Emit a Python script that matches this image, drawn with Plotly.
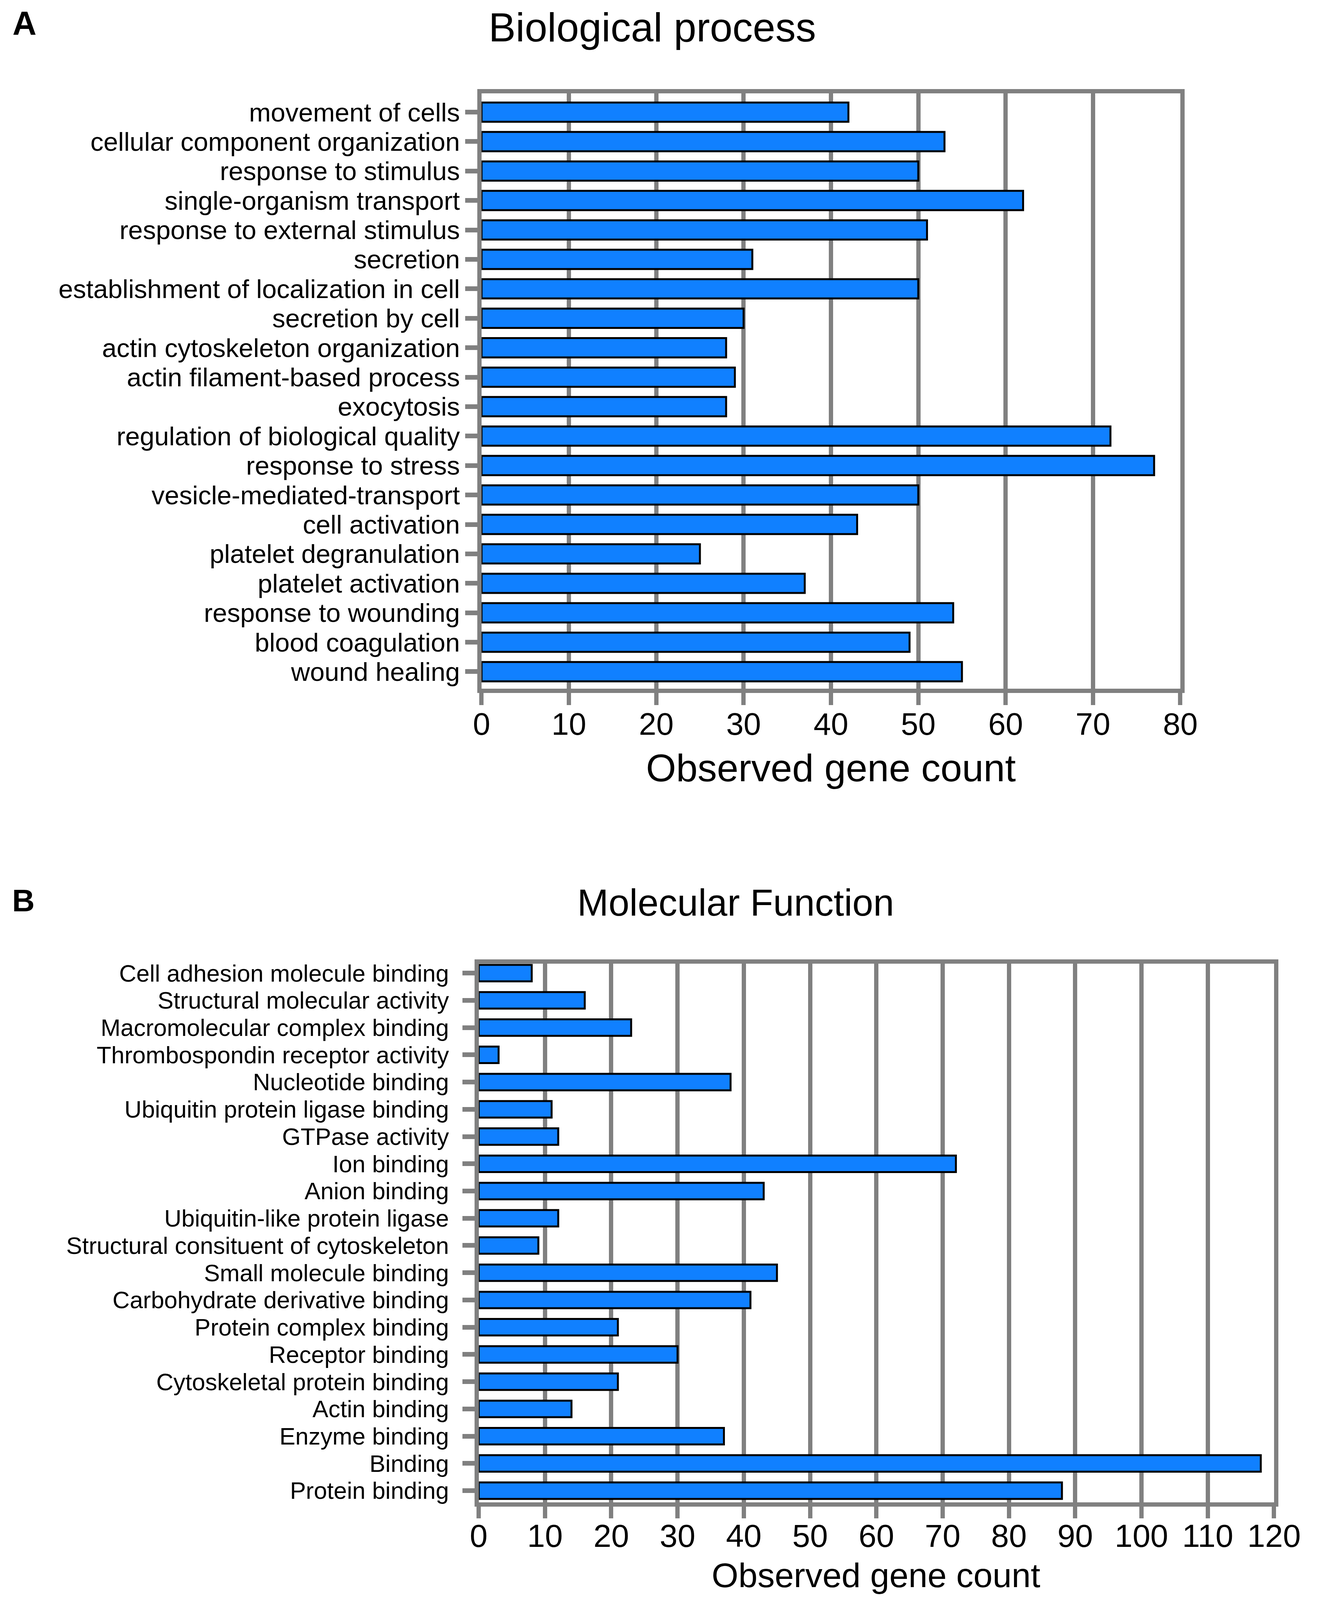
import plotly.graph_objects as go

# GO terms (top to bottom)
bp_terms = [
    "movement of cells", "cellular component organization", "response to stimulus",
    "single-organism transport", "response to external stimulus", "secretion",
    "establishment of localization in cell", "secretion by cell",
    "actin cytoskeleton organization", "actin filament-based process", "exocytosis",
    "regulation of biological quality", "response to stress", "vesicle-mediated-transport",
    "cell activation", "platelet degranulation", "platelet activation",
    "response to wounding", "blood coagulation", "wound healing",
]
bp_counts = [42, 53, 50, 62, 51, 31, 50, 30, 28, 29, 28, 72, 77, 50, 43, 25, 37, 54, 49, 55]

mf_terms = [
    "Cell adhesion molecule binding", "Structural molecular activity",
    "Macromolecular complex binding", "Thrombospondin receptor activity",
    "Nucleotide binding", "Ubiquitin protein ligase binding", "GTPase activity",
    "Ion binding", "Anion binding", "Ubiquitin-like protein ligase",
    "Structural consituent of cytoskeleton", "Small molecule binding",
    "Carbohydrate derivative binding", "Protein complex binding", "Receptor binding",
    "Cytoskeletal protein binding", "Actin binding", "Enzyme binding", "Binding",
    "Protein binding",
]
mf_counts = [8, 16, 23, 3, 38, 11, 12, 72, 43, 12, 9, 45, 41, 21, 30, 21, 14, 37, 118, 88]

bp_xticks = list(range(0, 81, 10))
mf_xticks = list(range(0, 121, 10))

W, H = 3418, 4781
FONT = "Liberation Sans, Arial, sans-serif"
GREY = "#808080"
BLUE = "#1080FF"


def fx(p):
    return p / W


def fy(p):
    return 1 - p / H


fig = go.Figure()

fig.add_trace(go.Bar(
    x=bp_counts, y=bp_terms, orientation="h", xaxis="x", yaxis="y",
    width=0.655, marker=dict(color=BLUE, line=dict(color="black", width=5)),
))
fig.add_trace(go.Bar(
    x=mf_counts, y=mf_terms, orientation="h", xaxis="x2", yaxis="y2",
    width=0.605, marker=dict(color=BLUE, line=dict(color="black", width=5)),
))

frame = dict(
    showline=True, mirror=True, linecolor=GREY, linewidth=11,
    ticks="outside", tickcolor=GREY, zeroline=False,
)

fig.update_layout(
    width=W, height=H,
    margin=dict(l=0, r=0, t=0, b=0),
    paper_bgcolor="white", plot_bgcolor="white",
    showlegend=False,
    font=dict(family=FONT, color="black"),
    xaxis=dict(
        frame, domain=[fx(1243), fx(3081)], anchor="y",
        range=[0, 80], tickvals=bp_xticks,
        showgrid=True, gridcolor=GREY, gridwidth=11,
        ticklen=31, tickwidth=11, tickfont=dict(size=80),
        ticklabelstandoff=-20,
    ),
    yaxis=dict(
        frame, domain=[fy(2053), fy(268)], anchor="x",
        type="category", categoryorder="array", categoryarray=bp_terms,
        tickmode="array", tickvals=bp_terms, ticktext=bp_terms,
        range=[19.575, -0.64], showgrid=False,
        ticklen=31, tickwidth=12, tickfont=dict(size=67),
    ),
    xaxis2=dict(
        frame, domain=[fx(1235.5), fx(3327.5)], anchor="y2",
        range=[0, 120], tickvals=mf_xticks,
        showgrid=True, gridcolor=GREY, gridwidth=11,
        ticklen=30, tickwidth=11, tickfont=dict(size=82),
        ticklabelstandoff=-26,
    ),
    yaxis2=dict(
        frame, domain=[fy(4493), fy(2878)], anchor="x2",
        type="category", categoryorder="array", categoryarray=mf_terms,
        tickmode="array", tickvals=mf_terms, ticktext=mf_terms,
        range=[19.43, -0.343], showgrid=False,
        ticklen=31, tickwidth=12, tickfont=dict(size=61),
        ticklabelstandoff=22,
    ),
)

notes = [
    ("A", 41, 58, 85, True),
    ("Biological process", 1692, 70, 104, False),
    ("Observed gene count", 2162, 2290, 99, False),
    ("B", 38, 2688, 80, True),
    ("Molecular Function", 1911, 2694, 96, False),
    ("Observed gene count", 2280, 4711, 88, False),
]
for text, x, y, size, bold in notes:
    fig.add_annotation(
        text=f"<b>{text}</b>" if bold else text,
        x=fx(x), y=fy(y), xref="paper", yref="paper",
        xanchor="center", yanchor="middle", showarrow=False,
        font=dict(size=size, family=FONT, color="black"),
    )

# the browser page is shorter than the figure, so fit the figure to it
fit = (
    "var gd=document.getElementById('{plot_id}');"
    "document.body.style.margin='0';"
    "document.body.style.overflow='hidden';"
    "Plotly.relayout(gd, {width: window.innerWidth, height: Math.min(window.innerHeight, %d)});" % H
)
fig.write_html("out.html", post_script=fit, config={"displayModeBar": False})
